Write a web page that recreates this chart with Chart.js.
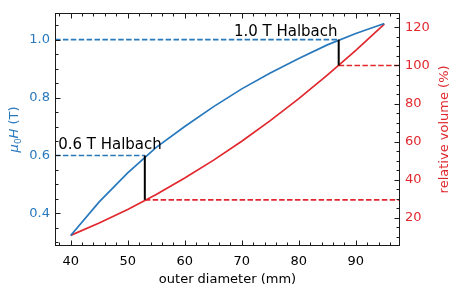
<!DOCTYPE html>
<html>
<head>
<meta charset="utf-8">
<script src="https://cdn.jsdelivr.net/npm/chart.js@4"></script>
<style>
  html, body { margin: 0; padding: 0; background: #fff; }
  #wrap { width: 458px; height: 292px; position: relative; }
</style>
</head>
<body>
<div id="wrap"><canvas id="c"></canvas></div>
<script>
// ---- data ----
const diameters = [40, 45, 50, 55, 60, 65, 70, 75, 80, 85, 90, 95];          // outer diameter (mm)
const fieldT    = [0.324, 0.44, 0.54, 0.628, 0.70, 0.768, 0.83, 0.885, 0.935, 0.982, 1.021, 1.056]; // mu0 H (T)
const volumePct = [10.7, 17.2, 24.3, 32.2, 40.8, 50.1, 60.2, 71.0, 82.6, 94.9, 107.9, 121.8];       // relative volume (%)

const markDiameters = [53, 87];      // Halbach designs (mm)
const markFields    = [0.6, 1.0];    // T
const markVolumes   = [29.4, 100];   // %
const markLabels    = ['0.6 T Halbach', '1.0 T Halbach'];

const xTicks  = [40, 50, 60, 70, 80, 90];
const yTicks  = [0.4, 0.6, 0.8, 1.0];
const y1Ticks = [20, 40, 60, 80, 100, 120];

const X_RANGE  = [37.25, 97.75];
const Y_RANGE  = [0.2875, 1.0927];
const Y1_RANGE = [5.1, 127.7];

const BLUE = '#2878bd';
const RED  = '#e0282e';
const FONT = 'DejaVu Sans';

const pts = (xs, ys) => xs.map((x, i) => ({x: x, y: ys[i]}));

const datasets = [
  { data: pts(diameters, fieldT), yAxisID: 'y', borderColor: BLUE, borderWidth: 1.7 },
  { data: pts(diameters, volumePct), yAxisID: 'y1', borderColor: RED, borderWidth: 1.7 }
];
markDiameters.forEach((d, i) => {
  datasets.push({ data: [{x: X_RANGE[0], y: markFields[i]}, {x: d, y: markFields[i]}],
    yAxisID: 'y', borderColor: BLUE, borderWidth: 1.7, borderDash: [5.5, 2.4] });
  datasets.push({ data: [{x: d, y: markVolumes[i]}, {x: X_RANGE[1], y: markVolumes[i]}],
    yAxisID: 'y1', borderColor: RED, borderWidth: 1.7, borderDash: [5.5, 2.4] });
});
datasets.forEach(ds => { ds.pointRadius = 0; ds.tension = 0; ds.fill = false; });

function range(a, b, s) { const r = []; for (let v = a; v <= b + 1e-9; v += s) r.push(+v.toFixed(6)); return r; }

const decor = {
  id: 'decor',
  afterDatasetsDraw(chart) {
    const ctx = chart.ctx;
    const xs = chart.scales.x, ys = chart.scales.y, y1 = chart.scales.y1;
    ctx.save();
    ctx.strokeStyle = '#000'; ctx.lineWidth = 2; ctx.setLineDash([]);
    markDiameters.forEach((d, i) => {
      const px = xs.getPixelForValue(d);
      ctx.beginPath();
      ctx.moveTo(px, ys.getPixelForValue(markFields[i]));
      ctx.lineTo(px, y1.getPixelForValue(markVolumes[i]));
      ctx.stroke();
    });
    ctx.fillStyle = '#000';
    ctx.font = '15px "' + FONT + '"';
    ctx.textBaseline = 'alphabetic';
    ctx.textAlign = 'left';
    ctx.fillText(markLabels[0], xs.getPixelForValue(37.8), ys.getPixelForValue(0.624));
    ctx.textAlign = 'right';
    ctx.fillText(markLabels[1], xs.getPixelForValue(86.8), ys.getPixelForValue(1.013));
    ctx.restore();
  },
  afterDraw(chart) {
    const ctx = chart.ctx, ca = chart.chartArea;
    const xs = chart.scales.x, ys = chart.scales.y, y1 = chart.scales.y1;
    ctx.save();
    ctx.strokeStyle = '#1a1a1a'; ctx.lineWidth = 1; ctx.setLineDash([]);
    const L = Math.round(ca.left) + 0.5, R = Math.round(ca.right) - 0.5;
    const T = Math.round(ca.top) + 0.5, B = Math.round(ca.bottom) - 0.5;
    ctx.strokeRect(L, T, R - L, B - T);
    const tick = (x0, y0, x1, y1_) => { ctx.beginPath(); ctx.moveTo(x0, y0); ctx.lineTo(x1, y1_); ctx.stroke(); };
    range(38, 96, 2).forEach(v => {
      const p = Math.round(xs.getPixelForValue(v)) + 0.5;
      const len = xTicks.includes(v) ? 5 : 3;
      tick(p, B, p, B - len); tick(p, T, p, T + len);
    });
    range(0.3, 1.05, 0.05).forEach(v => {
      const p = Math.round(ys.getPixelForValue(v)) + 0.5;
      const len = yTicks.some(t => Math.abs(t - v) < 1e-6) ? 5 : 3;
      tick(L, p, L + len, p);
    });
    range(10, 125, 5).forEach(v => {
      const p = Math.round(y1.getPixelForValue(v)) + 0.5;
      const len = y1Ticks.includes(v) ? 5 : 3;
      tick(R, p, R - len, p);
    });
    ctx.fillStyle = '#000';
    ctx.font = '13px "' + FONT + '"';
    ctx.textAlign = 'center'; ctx.textBaseline = 'middle';
    ctx.fillText('outer diameter (mm)', (ca.left + ca.right) / 2, 280);
    ctx.save();
    ctx.translate(445, (ca.top + ca.bottom) / 2);
    ctx.rotate(-Math.PI / 2);
    ctx.fillStyle = RED;
    ctx.fillText('relative volume (%)', 0, 0);
    ctx.restore();
    ctx.save();
    ctx.translate(13, (ca.top + ca.bottom) / 2);
    ctx.rotate(-Math.PI / 2);
    ctx.fillStyle = BLUE;
    ctx.textAlign = 'left'; ctx.textBaseline = 'alphabetic';
    const segs = [
      {t: 'μ', f: 'italic 13px "' + FONT + '"', dy: 0},
      {t: '0', f: '9px "' + FONT + '"', dy: 3},
      {t: 'H', f: 'italic 13px "' + FONT + '"', dy: 0},
      {t: ' (T)', f: '13px "' + FONT + '"', dy: 0}
    ];
    let w = 0;
    segs.forEach(s => { ctx.font = s.f; s.w = ctx.measureText(s.t).width; w += s.w; });
    let x = -w / 2;
    segs.forEach(s => { ctx.font = s.f; ctx.fillText(s.t, x, 5 + s.dy); x += s.w; });
    ctx.restore();
    ctx.restore();
  }
};

new Chart(document.getElementById('c'), {
  type: 'line',
  data: { datasets: datasets },
  options: {
    responsive: true,
    maintainAspectRatio: false,
    animation: false,
    events: [],
    layout: { padding: { top: 5, left: 0, right: 0, bottom: 0 } },
    plugins: { legend: { display: false }, tooltip: { enabled: false } },
    scales: {
      x: {
        type: 'linear', position: 'bottom', min: X_RANGE[0], max: X_RANGE[1],
        grid: { display: false, drawTicks: false }, border: { display: false },
        afterBuildTicks: s => { s.ticks = xTicks.map(v => ({value: v})); },
        afterFit: s => { s.height = 46; },
        ticks: { color: '#000', font: { family: FONT, size: 13 }, padding: 8, maxRotation: 0,
                 callback: v => String(v) }
      },
      y: {
        type: 'linear', position: 'left', min: Y_RANGE[0], max: Y_RANGE[1],
        grid: { display: false, drawTicks: false }, border: { display: false },
        afterBuildTicks: s => { s.ticks = yTicks.map(v => ({value: v})); },
        afterFit: s => { s.width = 55; },
        ticks: { color: BLUE, font: { family: FONT, size: 13 }, padding: 5,
                 callback: v => Number(v).toFixed(1) }
      },
      y1: {
        type: 'linear', position: 'right', min: Y1_RANGE[0], max: Y1_RANGE[1],
        grid: { display: false, drawTicks: false }, border: { display: false },
        afterBuildTicks: s => { s.ticks = y1Ticks.map(v => ({value: v})); },
        afterFit: s => { s.width = 58; },
        ticks: { color: RED, font: { family: FONT, size: 13 }, padding: 5,
                 callback: v => String(v) }
      }
    }
  },
  plugins: [decor]
});
</script>
</body>
</html>
